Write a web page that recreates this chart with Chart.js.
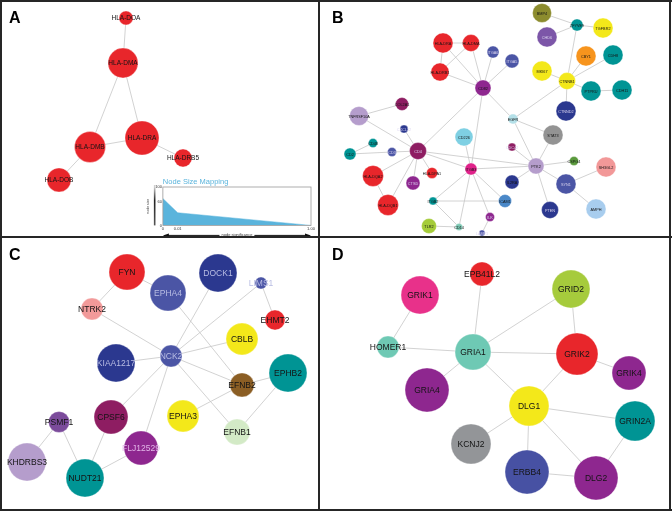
<!DOCTYPE html>
<html>
<head>
<meta charset="utf-8">
<script src="https://cdn.jsdelivr.net/npm/chart.js@4.4.1/dist/chart.umd.min.js"></script>
<style>
  body { margin: 0; background: #fff; }
  #wrap { position: relative; width: 672px; height: 511px; overflow: hidden; background: #fff; }
  canvas { position: absolute; }
  .rule { position: absolute; background: #262626; }
</style>
</head>
<body>
<div id="wrap">
  <canvas id="panelA" width="319" height="237" style="left:0;top:0"></canvas>
  <canvas id="panelB" width="353" height="237" style="left:319px;top:0"></canvas>
  <canvas id="panelC" width="319" height="274" style="left:0;top:237px"></canvas>
  <canvas id="panelD" width="353" height="274" style="left:319px;top:237px"></canvas>
  <canvas id="inset" width="170" height="62" style="left:146px;top:176px"></canvas>
  <div class="rule" style="left:0;top:0;width:672px;height:2px"></div>
  <div class="rule" style="left:0;top:509px;width:672px;height:2px"></div>
  <div class="rule" style="left:0;top:0;width:2px;height:511px"></div>
  <div class="rule" style="left:669px;top:0;width:2px;height:511px"></div>
  <div class="rule" style="left:318px;top:0;width:2px;height:511px"></div>
  <div class="rule" style="left:0;top:236px;width:672px;height:2px"></div>
</div>
<script>
// ---- Panel A: HLA class II module ----
const aNodes = ['HLA-DOA', 'HLA-DMA', 'HLA-DRA', 'HLA-DMB', 'HLA-DRB5', 'HLA-DOB'];
const aX = [126, 123, 142, 90, 183, 59];
const aY = [18, 63, 138, 147, 158, 180];
const aSize = [7, 15, 17, 15.5, 9, 12];
const aEdges = [
  ['HLA-DOA', 'HLA-DMA'], ['HLA-DMA', 'HLA-DRA'], ['HLA-DMA', 'HLA-DMB'],
  ['HLA-DMB', 'HLA-DRA'], ['HLA-DRA', 'HLA-DRB5'], ['HLA-DMB', 'HLA-DOB']
];

// ---- Panel B ----
const bNodes = ['BMP4', 'ZFYVE9', 'TGFBR2', 'CHD6', 'CBY1', 'CDH8', 'MKI67', 'CTNNB1', 'PTPRU', 'CDH11',
  'CTNND2', 'HLA-DRA', 'HLA-DMA', 'HLA-DRB1', 'ITGA6', 'ITGA5', 'CD82', 'EGFR', 'STAT3', 'TNFRSF10A',
  'COL2A1', 'CXCL12', 'CD226', 'CD4', 'CD48', 'CD2', 'CD3', 'CDC42', 'ITGB3', 'PTK2',
  'CSPG4', 'SH3GL2', 'HLA-DQA2', 'HLA-DPA1', 'CTSD', 'IL2RA', 'SYN1', 'HLA-DQB1', 'ITGB2', 'ICAM1',
  'PTEN', 'AMPH', 'ILK', 'TLR2', 'CD14', 'LAMP1'];
const bX = [223, 258, 284, 228, 267, 294, 223, 248, 272, 303,
  247, 124, 152, 121, 174, 193, 164, 194, 234, 40,
  83, 85, 145, 99, 54, 31, 73, 193, 152, 217,
  255, 287, 54, 113, 94, 193, 247, 69, 114, 186,
  231, 277, 171, 110, 140, 163];
const bY = [13, 25, 28, 37, 56, 55, 71, 81, 91, 90,
  111, 43, 43, 72, 52, 61, 88, 119, 135, 116,
  104, 129, 137, 151, 143, 154, 152, 147, 169, 166,
  161, 167, 176, 173, 183, 182, 184, 205, 201, 201,
  210, 209, 217, 226, 227, 233];
const bSize = [9.5, 6, 10, 10, 10, 10, 10, 8.5, 10, 10,
  10, 10, 8.5, 9, 6, 7, 8, 5, 10, 9.5,
  6.5, 4, 9, 8.5, 4.5, 6, 4.5, 4, 6, 8,
  4.5, 10, 10.5, 5.5, 7, 7, 10, 10.5, 4, 6.5,
  8.5, 10, 4.5, 7.5, 3.5, 3];
const bEdges = [
  ['BMP4', 'ZFYVE9'], ['ZFYVE9', 'TGFBR2'], ['ZFYVE9', 'CHD6'], ['ZFYVE9', 'CTNNB1'],
  ['CBY1', 'CTNNB1'], ['CDH8', 'CTNNB1'], ['MKI67', 'CTNNB1'], ['CTNNB1', 'PTPRU'],
  ['PTPRU', 'CDH11'], ['CTNNB1', 'CTNND2'], ['CTNNB1', 'EGFR'],
  ['HLA-DRA', 'HLA-DMA'], ['HLA-DRA', 'HLA-DRB1'], ['HLA-DMA', 'HLA-DRB1'], ['HLA-DRA', 'CD82'],
  ['HLA-DMA', 'CD82'], ['HLA-DRB1', 'CD82'], ['ITGA6', 'CD82'], ['ITGA5', 'CD82'],
  ['CD82', 'EGFR'], ['CD82', 'CD4'], ['CD82', 'ITGB3'],
  ['TNFRSF10A', 'COL2A1'], ['TNFRSF10A', 'CD4'], ['CXCL12', 'CD4'], ['CD2', 'CD48'],
  ['CD2', 'CD3'], ['CD3', 'CD4'], ['CD4', 'HLA-DQA2'], ['CD4', 'HLA-DQB1'], ['CD4', 'CTSD'],
  ['CD4', 'HLA-DPA1'], ['CD4', 'ITGB3'], ['CD4', 'PTK2'], ['HLA-DQA2', 'HLA-DQB1'],
  ['EGFR', 'STAT3'], ['EGFR', 'PTK2'], ['STAT3', 'PTK2'], ['CDC42', 'PTK2'], ['PTK2', 'CSPG4'],
  ['ITGB3', 'PTK2'], ['PTK2', 'SYN1'], ['PTK2', 'PTEN'], ['PTK2', 'IL2RA'], ['SYN1', 'SH3GL2'],
  ['SYN1', 'AMPH'], ['CD226', 'ITGB3'], ['ITGB3', 'ICAM1'], ['ITGB3', 'ITGB2'], ['ITGB3', 'ILK'],
  ['ITGB3', 'CD14'], ['ITGB2', 'ICAM1'], ['ITGB2', 'CD14'], ['TLR2', 'CD14'], ['ILK', 'LAMP1']
];

// ---- Panel C ----
const cNodes = ['FYN', 'DOCK1', 'EPHA4', 'LIMS1', 'NTRK2', 'EHMT2', 'CBLB', 'NCK2', 'KIAA1217',
  'EPHB2', 'EFNB2', 'EPHA3', 'EFNB1', 'PSMF1', 'CPSF6', 'FLJ12529', 'KHDRBS3', 'NUDT21'];
const cX = [127, 218, 168, 261, 92, 275, 242, 171, 116, 288, 242, 183, 237, 59, 111, 141, 27, 85];
const cY = [35, 36, 56, 46, 72, 83, 102, 119, 126, 136, 148, 179, 195, 185, 180, 211, 225, 241];
const cSize = [18, 19, 18, 6, 11, 10, 16, 11, 19, 19, 12, 16, 13, 10.5, 17, 17, 19, 19];
const cEdges = [
  ['FYN', 'NTRK2'], ['FYN', 'EPHA4'], ['NTRK2', 'NCK2'], ['DOCK1', 'NCK2'], ['LIMS1', 'NCK2'],
  ['LIMS1', 'EHMT2'], ['EPHA4', 'EFNB2'], ['NCK2', 'CBLB'], ['NCK2', 'KIAA1217'], ['NCK2', 'EFNB2'],
  ['NCK2', 'EFNB1'], ['NCK2', 'CPSF6'], ['NCK2', 'FLJ12529'], ['EFNB2', 'EPHB2'], ['EFNB2', 'EPHA3'],
  ['EPHB2', 'EFNB1'], ['PSMF1', 'KHDRBS3'], ['PSMF1', 'NUDT21'], ['CPSF6', 'NUDT21'], ['FLJ12529', 'NUDT21']
];

// ---- Panel D ----
const dNodes = ['EPB41L2', 'GRIK1', 'GRID2', 'HOMER1', 'GRIA1', 'GRIK2', 'GRIK4', 'GRIA4',
  'DLG1', 'GRIN2A', 'KCNJ2', 'ERBB4', 'DLG2'];
const dX = [163, 101, 252, 69, 154, 258, 310, 108, 210, 316, 152, 208, 277];
const dY = [37, 58, 52, 110, 115, 117, 136, 153, 169, 184, 207, 235, 241];
const dSize = [12, 19, 19, 11, 18, 21, 17, 22, 20, 20, 20, 22, 22];
const dEdges = [
  ['EPB41L2', 'GRIA1'], ['GRIK1', 'HOMER1'], ['HOMER1', 'GRIA1'], ['GRIA1', 'GRID2'],
  ['GRID2', 'GRIK2'], ['GRIA1', 'GRIK2'], ['GRIA1', 'GRIA4'], ['GRIA1', 'DLG1'],
  ['GRIK2', 'GRIK4'], ['GRIK2', 'DLG1'], ['DLG1', 'GRIN2A'], ['DLG1', 'KCNJ2'],
  ['DLG1', 'ERBB4'], ['DLG1', 'DLG2'], ['ERBB4', 'DLG2'], ['GRIN2A', 'DLG2']
];

// ---- Inset: node size mapping ----
const sigValues = [0, 0.01, 1.00];
const sizeValues = [70, 33, 0];
const sizeTicks = [0, 60, 100];

// colours
const RED = '#e8262b', TEAL = '#009494', YEL = '#f3e81a', DBLUE = '#2b388f', BLUE = '#4b55a5',
  PURP = '#8e278f', MAROON = '#8e1d62', LILAC = '#b59dcc';
const aColors = aNodes.map(() => RED);
const bColors = ['#8c8c2e', TEAL, YEL, '#7c56a8', '#f7941d', TEAL, YEL, YEL, TEAL, TEAL,
  DBLUE, RED, RED, RED, BLUE, BLUE, PURP, '#b4e0e8', '#939393', LILAC,
  MAROON, DBLUE, '#7fd0e3', MAROON, TEAL, TEAL, BLUE, MAROON, '#e0218a', LILAC,
  '#5a9a3c', '#f29898', RED, RED, PURP, DBLUE, BLUE, RED, TEAL, '#4a88c8',
  DBLUE, '#a8cdee', PURP, '#a5cc3a', '#7cc9b4', BLUE];
const cColors = [RED, DBLUE, BLUE, BLUE, '#f29a9a', RED, YEL, BLUE, DBLUE,
  TEAL, '#8b5e24', YEL, '#d3eac6', '#7b4b9b', MAROON, PURP, LILAC, TEAL];
const dColors = [RED, '#e8318a', '#a6cb3c', '#6ec9b4', '#6ec9b4', RED, PURP, PURP,
  YEL, TEAL, '#939598', '#4751a3', PURP];

const bLight = ['CHD6', 'ITGA6', 'ITGA5', 'CXCL12', 'CD4', 'CD3', 'CTSD', 'CDC42', 'SYN1', 'PTEN',
  'CTNND2', 'ILK', 'LAMP1'];
const cLight = ['DOCK1', 'EPHA4', 'LIMS1', 'NCK2', 'KIAA1217', 'FLJ12529'];

const FONT = '"Liberation Sans", Arial, Helvetica, sans-serif';

const nodeLabels = {
  id: 'nodeLabels',
  afterDatasetsDraw(chart, args, opts) {
    const ctx = chart.ctx;
    const meta = chart.getDatasetMeta(0);
    ctx.save();
    ctx.font = opts.size + 'px ' + FONT;
    ctx.textAlign = 'center';
    ctx.textBaseline = 'middle';
    meta.data.forEach((el, i) => {
      const name = opts.names[i];
      ctx.fillStyle = opts.light.includes(name) ? (name === 'FLJ12529' ? '#e2b6e8' : opts.lightColor) : '#141414';
      ctx.fillText(name, el.x, el.y + 0.5);
    });
    ctx.font = 'bold 16px ' + FONT;
    ctx.textAlign = 'left';
    ctx.textBaseline = 'alphabetic';
    ctx.fillStyle = '#000';
    ctx.fillText(opts.letter, opts.letterX, 23);
    ctx.restore();
  }
};

function networkChart(id, letter, letterX, names, xs, ys, sizes, fills, edges, labelSize, light, lightColor) {
  const canvas = document.getElementById(id);
  const nodes = names.map((n, i) => ({ x: xs[i], y: ys[i], r: sizes[i] }));
  const links = [];
  edges.forEach(([a, b]) => {
    const i = names.indexOf(a), j = names.indexOf(b);
    links.push({ x: xs[i], y: ys[i] }, { x: xs[j], y: ys[j] }, { x: null, y: null });
  });
  new Chart(canvas, {
    type: 'bubble',
    data: {
      datasets: [
        {
          data: nodes,
          backgroundColor: fills,
          borderColor: 'rgba(255,255,255,0.55)',
          borderWidth: 0.6,
          hoverRadius: 0
        },
        {
          type: 'scatter',
          data: links,
          showLine: true,
          spanGaps: false,
          borderColor: '#c6c6c6',
          borderWidth: 0.8,
          pointRadius: 0
        }
      ]
    },
    options: {
      responsive: false,
      animation: false,
      devicePixelRatio: 1,
      events: [],
      layout: { autoPadding: false, padding: 0 },
      scales: {
        x: { type: 'linear', min: 0, max: canvas.width, display: false },
        y: { type: 'linear', min: 0, max: canvas.height, reverse: true, display: false }
      },
      plugins: {
        legend: { display: false },
        tooltip: { enabled: false },
        nodeLabels: { names: names, size: labelSize, light: light, lightColor: lightColor, letter: letter, letterX: letterX }
      }
    },
    plugins: [nodeLabels]
  });
}

networkChart('panelA', 'A', 9, aNodes, aX, aY, aSize, aColors, aEdges, 6.5, [], '#fff');
networkChart('panelB', 'B', 13, bNodes, bX, bY, bSize, bColors, bEdges, 3.8, bLight, '#dcd6f0');
networkChart('panelC', 'C', 9, cNodes, cX, cY, cSize, cColors, cEdges, 8.5, cLight, '#b9bde3');
networkChart('panelD', 'D', 13, dNodes, dX, dY, dSize, dColors, dEdges, 8.5, [], '#fff');

// piecewise significance axis: the first 1% of the range takes a tenth of the width
class SignificanceScale extends Chart.LinearScale {
  getPixelForValue(value) {
    const t = value <= 0.01 ? value / 0.01 * 0.1 : 0.1 + (value - 0.01) / 0.99 * 0.9;
    return this.getPixelForDecimal(t);
  }
}
SignificanceScale.id = 'significance';
SignificanceScale.defaults = Chart.LinearScale.defaults;
Chart.register(SignificanceScale);

const insetFrame = {
  id: 'insetFrame',
  afterDatasetsDraw(chart) {
    const { ctx, chartArea: a } = chart;
    ctx.save();
    ctx.strokeStyle = '#9a9a9a';
    ctx.lineWidth = 0.8;
    ctx.strokeRect(a.left, a.top, a.right - a.left, a.bottom - a.top);
    const g = ctx.createLinearGradient(0, a.top, 0, a.bottom);
    g.addColorStop(0, '#cfcfcf');
    g.addColorStop(0.35, '#222');
    g.addColorStop(1, '#555');
    ctx.fillStyle = g;
    ctx.fillRect(a.left - 9, a.top - 2, 1.6, a.bottom - a.top + 2);
    // arrow under the axis title
    const xs = chart.scales.x;
    const y = xs.bottom - 2.6;
    ctx.font = '4px ' + FONT;
    const tw = ctx.measureText('node significance').width;
    const mid = (a.left + a.right) / 2;
    ctx.strokeStyle = '#111';
    ctx.lineWidth = 1;
    ctx.beginPath();
    ctx.moveTo(a.left + 4, y); ctx.lineTo(mid - tw / 2 - 2, y);
    ctx.moveTo(mid + tw / 2 + 2, y); ctx.lineTo(a.right - 4, y);
    ctx.stroke();
    ctx.fillStyle = '#111';
    ctx.beginPath();
    ctx.moveTo(a.left, y); ctx.lineTo(a.left + 6, y - 2); ctx.lineTo(a.left + 6, y + 2); ctx.closePath();
    ctx.moveTo(a.right, y); ctx.lineTo(a.right - 6, y - 2); ctx.lineTo(a.right - 6, y + 2); ctx.closePath();
    ctx.fill();
    ctx.restore();
  }
};

new Chart(document.getElementById('inset'), {
  type: 'line',
  data: {
    datasets: [{
      data: sigValues.map((v, i) => ({ x: v, y: sizeValues[i] })),
      borderColor: '#5ab4dc',
      backgroundColor: '#5ab4dc',
      borderWidth: 0.5,
      pointRadius: 0,
      fill: 'origin',
      tension: 0
    }]
  },
  options: {
    responsive: false,
    animation: false,
    devicePixelRatio: 1,
    events: [],
    layout: { autoPadding: false, padding: { left: 0, right: 5, top: 0, bottom: 0 } },
    scales: {
      x: {
        type: 'significance',
        min: 0,
        max: 1,
        afterBuildTicks: (scale) => { scale.ticks = sigValues.map(v => ({ value: v })); },
        grid: { display: false, drawTicks: false },
        border: { display: false },
        ticks: {
          font: { size: 4, family: FONT },
          color: '#333',
          padding: 1,
          maxRotation: 0,
          autoSkip: false,
          callback: (v) => v === 0 ? '0' : v.toFixed(2)
        },
        title: { display: true, text: 'node significance', font: { size: 4, family: FONT }, color: '#333', padding: { top: 0, bottom: 1 } }
      },
      y: {
        min: 0,
        max: 100,
        afterBuildTicks: (scale) => { scale.ticks = sizeTicks.map(v => ({ value: v })); },
        grid: { display: false, drawTicks: false },
        border: { display: false },
        ticks: { font: { size: 4, family: FONT }, color: '#333', padding: 1 },
        title: { display: true, text: 'node size', font: { size: 3.5, family: FONT }, color: '#333', padding: { top: 0, bottom: 4 } }
      }
    },
    plugins: {
      legend: { display: false },
      tooltip: { enabled: false },
      title: {
        display: true,
        text: 'Node Size Mapping',
        align: 'start',
        fullSize: false,
        color: '#5ab4dc',
        font: { size: 7.5, family: FONT, weight: 'normal' },
        padding: { top: 1, bottom: 1 }
      }
    }
  },
  plugins: [insetFrame]
});
</script>
</body>
</html>
